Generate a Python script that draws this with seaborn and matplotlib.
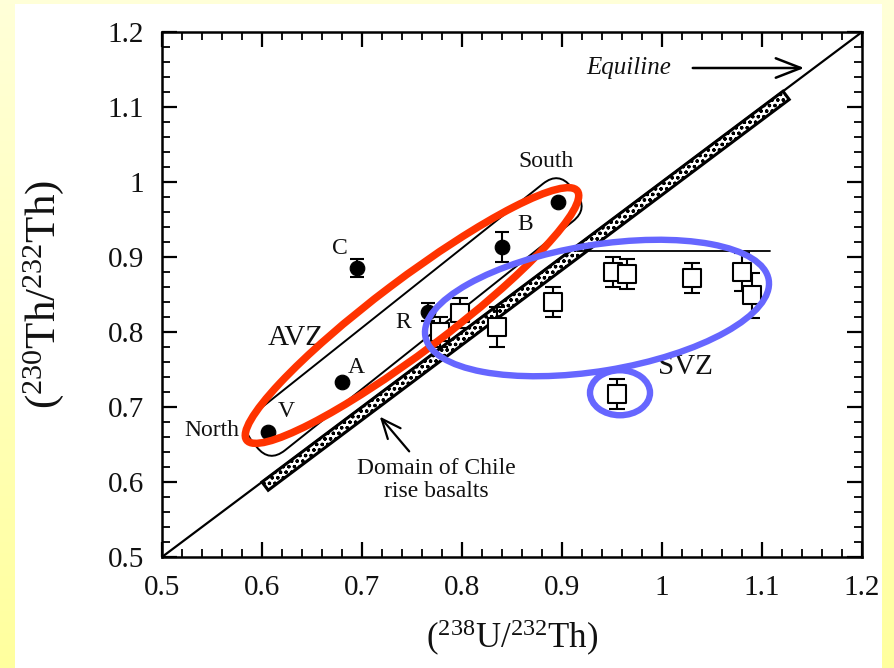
import numpy as np
import pandas as pd
import matplotlib
matplotlib.use("Agg")
import matplotlib.pyplot as plt
import seaborn as sns
from matplotlib.patches import Ellipse, Polygon, FancyBboxPatch, Rectangle
from matplotlib.transforms import ScaledTranslation, Affine2D
from matplotlib.ticker import MultipleLocator

# AVZ samples (filled circles), North -> South
avz_x = [0.606, 0.680, 0.695, 0.766, 0.840, 0.896]
avz_y = [0.667, 0.734, 0.885, 0.827, 0.914, 0.974]
avz_err = [0.0, 0.0, 0.012, 0.012, 0.020, 0.0]

# SVZ samples (open squares)
svz_x = [0.778, 0.798, 0.835, 0.891, 0.951, 0.965, 1.030, 1.080, 1.090, 0.955]
svz_y = [0.800, 0.825, 0.807, 0.840, 0.880, 0.878, 0.872, 0.880, 0.849, 0.718]
svz_err = [0.020, 0.020, 0.027, 0.020, 0.020, 0.020, 0.020, 0.025, 0.030, 0.020]

# equiline and Chile rise band
equi = [0.5, 1.2]
band_start, band_end = 0.600, 1.121

df_avz = pd.DataFrame({"U": avz_x, "Th": avz_y})
df_svz = pd.DataFrame({"U": svz_x, "Th": svz_y})

sns.set_theme(style="ticks")
plt.rcParams['font.family'] = ['Liberation Serif', 'DejaVu Serif']
plt.rcParams['mathtext.fontset'] = 'custom'
plt.rcParams['mathtext.rm'] = 'Liberation Serif'
plt.rcParams['mathtext.it'] = 'Liberation Serif:italic'
plt.rcParams['hatch.linewidth'] = 0.9

fig = plt.figure(figsize=(8.95, 6.68), dpi=100)
fig.patch.set_facecolor('#FFFFA8')

# yellow slide background with white panel, slight fade at the left
bg = fig.add_axes([0, 0, 1, 1], zorder=-10)
bg.set_axis_off()
grad = np.linspace(0, 1, 256)
yel = np.array([1.0, 1.0, 0.62])
col = yel + (np.array([1.0, 1.0, 1.0]) - yel) * (0.6 * grad)[:, None]
bg.imshow(col[::-1].reshape(256, 1, 3), aspect='auto',
          extent=[0, 1, 0, 1], interpolation='bilinear')
bg.add_patch(Rectangle((15 / 895, 0), 867 / 895, 664 / 668, facecolor='white', edgecolor='none'))
lg = np.linspace(0, 1, 128)
lcol = np.array([1.0, 1.0, 0.84]) + (1 - np.array([1.0, 1.0, 0.84])) * lg[:, None]
bg.imshow(lcol[None, :, :], aspect='auto', extent=[15 / 895, 115 / 895, 0, 664 / 668],
          interpolation='bilinear')
bg.set_xlim(0, 1)
bg.set_ylim(0, 1)

ax = fig.add_axes([162 / 895, 111 / 668, 700 / 895, 525 / 668])
ax.set_facecolor('none')

# equiline
sns.lineplot(x=equi, y=equi, color='black', lw=1.6, ax=ax, zorder=3)

# Chile rise band just under the equiline
off_x, off_y = 0.0062, -0.0110
band = Polygon([(band_start, band_start), (band_end, band_end),
                (band_end + off_x, band_end + off_y), (band_start + off_x, band_start + off_y)],
               closed=True, facecolor='white', edgecolor='black', lw=2.2, hatch='ooo', zorder=3)
ax.add_patch(band)

# flat top line over the SVZ group
ax.plot([0.915, 1.108], [0.908, 0.908], color='black', lw=1.3, zorder=3)

# error bars then markers
ax.errorbar(svz_x, svz_y, yerr=svz_err, fmt='none', ecolor='black', elinewidth=1.5,
            capsize=6, capthick=1.5, zorder=4)
ax.errorbar(avz_x, avz_y, yerr=avz_err, fmt='none', ecolor='black', elinewidth=1.5,
            capsize=5, capthick=1.5, zorder=4)
sns.scatterplot(data=df_svz, x="U", y="Th", marker='s', s=150, facecolor='white',
                edgecolor='black', linewidth=1.5, ax=ax, zorder=5)
sns.scatterplot(data=df_avz, x="U", y="Th", marker='o', s=110, color='black',
                edgecolor='black', ax=ax, zorder=5)

# AVZ envelope (rounded band)
env_t = Affine2D().rotate_deg(38.5) + fig.dpi_scale_trans + ScaledTranslation(0.752, 0.820, ax.transData)
env = FancyBboxPatch((-2.04, -0.24), 4.08, 0.48, boxstyle="round,pad=0,rounding_size=0.2",
                     facecolor='none', edgecolor='black', lw=1.4, transform=env_t, zorder=4)
ax.add_patch(env)

# highlighting ellipses
def pix_ellipse(cx, cy, w, h, ang, color, lw):
    t = fig.dpi_scale_trans + ScaledTranslation(cx, cy, ax.transData)
    e = Ellipse((0, 0), w, h, angle=ang, facecolor='none', edgecolor=color, lw=lw,
                transform=t, zorder=6, clip_on=False)
    ax.add_patch(e)

pix_ellipse(0.750, 0.822, 4.14, 0.72, 37, '#FF3300', 5.4)
pix_ellipse(0.935, 0.832, 3.48, 1.26, 9.3, '#6666FF', 4.6)
pix_ellipse(0.958, 0.719, 0.60, 0.45, 0, '#6666FF', 4.6)

# text labels
tk = dict(color='#111111', ha='center', va='center')
ax.text(0.884, 1.027, 'South', fontsize=17, **tk)
ax.text(0.863, 0.943, 'B', fontsize=17, **tk)
ax.text(0.678, 0.912, 'C', fontsize=17, **tk)
ax.text(0.741, 0.813, 'R', fontsize=17, **tk)
ax.text(0.634, 0.792, 'AVZ', fontsize=21, **tk)
ax.text(0.694, 0.753, 'A', fontsize=17, **tk)
ax.text(0.624, 0.694, 'V', fontsize=17, **tk)
ax.text(0.550, 0.668, 'North', fontsize=17, **tk)
ax.text(1.023, 0.753, 'SVZ', fontsize=21, **tk)
ax.text(0.774, 0.603, 'Domain of Chile\nrise basalts', fontsize=17, linespacing=1.1, **tk)
ax.text(0.967, 1.152, 'Equiline', fontsize=18, style='italic', **tk)

ax.annotate('', xy=(1.145, 1.152), xytext=(1.028, 1.152),
            arrowprops=dict(arrowstyle='->,head_length=0.9,head_width=0.35', color='black',
                            lw=1.8, mutation_scale=20))
ax.annotate('', xy=(0.716, 0.690), xytext=(0.749, 0.638),
            arrowprops=dict(arrowstyle='->,head_length=0.7,head_width=0.3', color='black',
                            lw=1.6, mutation_scale=20))

# axes
ax.set_xlim(0.5, 1.2)
ax.set_ylim(0.5, 1.2)
ax.xaxis.set_major_locator(MultipleLocator(0.1))
ax.xaxis.set_minor_locator(MultipleLocator(0.02))
ax.yaxis.set_major_locator(MultipleLocator(0.1))
ax.yaxis.set_minor_locator(MultipleLocator(0.02))
ax.xaxis.set_major_formatter(plt.FuncFormatter(lambda v, p: f"{v:g}"))
ax.yaxis.set_major_formatter(plt.FuncFormatter(lambda v, p: f"{v:g}"))
ax.tick_params(which='both', direction='in', top=True, right=True, color='black',
               labelsize=21, labelcolor='#111111')
ax.tick_params(which='major', length=11, width=1.6, pad=13)
ax.tick_params(which='minor', length=6, width=1.3)
for s in ax.spines.values():
    s.set_color('black')
    s.set_linewidth(1.8)

ax.set_xlabel(r'($^{238}$U/$^{232}$Th)', fontsize=25, color='#111111', labelpad=12)
ax.set_ylabel(r'($^{230}$Th/$^{232}$Th)', fontsize=31, color='#111111', labelpad=30)

fig.savefig('out.png', dpi=100, facecolor=fig.get_facecolor())
